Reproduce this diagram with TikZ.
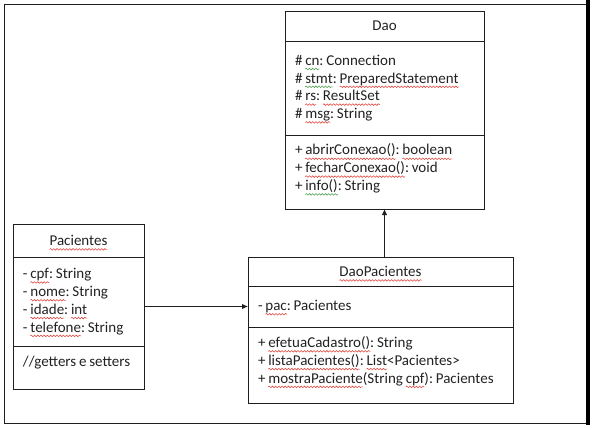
\documentclass[tikz,border=0pt]{standalone}
\usepackage{fontspec}
\setmainfont{Carlito}
\usetikzlibrary{positioning,arrows.meta,decorations.pathmorphing}
\definecolor{umlline}{HTML}{1E1E1E}
\definecolor{umltext}{HTML}{222222}
\definecolor{spellred}{HTML}{E0453E}
\definecolor{spellgreen}{HTML}{4A9E4A}
\newsavebox\wavebox
\newlength\wavelen
% wavy spell-check underline
\newcommand\wavy[2]{\leavevmode\sbox\wavebox{#2}\setlength\wavelen{\wd\wavebox}%
  \rlap{\tikz[overlay,baseline=0pt,x=1pt,y=1pt]\draw[#1,line width=0.55pt,decorate,
    decoration={snake,amplitude=0.8pt,segment length=3.2pt}] (0pt,-3.8pt)--(\wavelen,-3.8pt);}%
  \usebox\wavebox}
\newcommand\rw[1]{\wavy{spellred}{#1}}
\newcommand\gw[1]{\wavy{spellgreen}{#1}}
\tikzset{
  part/.style={draw=umlline, line width=0.9pt, text=umltext, text width=#1, align=left,
               inner xsep=10pt, inner ysep=0pt, outer sep=0pt, anchor=north west,
               font=\fontsize{15}{17.8}\selectfont,
               execute at begin node={\frenchspacing\spaceskip=2.8pt\relax
                 \hyphenpenalty=10000\exhyphenpenalty=10000}},
  head/.style={align=center},
  link/.style={-{Latex[length=6pt,width=5.5pt]}, draw=umlline, line width=0.9pt},
  frame/.style={draw=umlline, line width=0.9pt},
}
\begin{document}
\begin{tikzpicture}[x=1pt, y=-1pt]
  \useasboundingbox (0,0) rectangle (594,429);
  % outer frame
  \draw[frame] (4,4) rectangle (586,423);
  \draw[line width=4pt, draw=black] (588,0) -- (588,425);
  % Dao
  \node[part=179pt, head, minimum height=30pt] (dao1) at (285,11) {Dao};
  \node[part=179pt, minimum height=94pt, below=0pt of dao1.south west, anchor=north west] (dao2)
    {\# \gw{cn}: Connection\\ \# \gw{stmt}: \rw{PreparedStatement}\\ \# \rw{rs}: \rw{ResultSet}\\ \# \rw{msg}: String};
  \node[part=179pt, minimum height=74pt, text depth=45pt, below=0pt of dao2.south west, anchor=north west] (dao3)
    {+ \rw{abrirConexao()}: \rw{boolean}\\ + \rw{fecharConexao()}: void\\ + \gw{info()}: String};
  % Pacientes
  \node[part=111pt, head, minimum height=33pt] (pac1) at (13,224) {\rw{Pacientes}};
  \node[part=111pt, minimum height=89pt, below=0pt of pac1.south west, anchor=north west] (pac2)
    {- \rw{cpf}: String\\ - \rw{nome}: String\\ - \rw{idade}: \rw{int}\\ - \rw{telefone}: String};
  \node[part=111pt, minimum height=43pt, text depth=13pt, below=0pt of pac2.south west, anchor=north west] (pac3)
    {//getters e setters};
  % DaoPacientes
  \node[part=245pt, head, minimum height=29pt] (dp1) at (248,257) {\rw{DaoPacientes}};
  \node[part=245pt, minimum height=41pt, below=0pt of dp1.south west, anchor=north west] (dp2)
    {- \rw{pac}: Pacientes};
  \node[part=245pt, minimum height=76pt, text depth=46pt, below=0pt of dp2.south west, anchor=north west] (dp3)
    {+ \rw{efetuaCadastro()}: String\\ + \rw{listaPacientes()}: \rw{List}<Pacientes>\\ + \rw{mostraPaciente}(String \rw{cpf}): Pacientes};
  % connectors
  \draw[link] (pac2.east |- dp2.west) -- (dp2.west);
  \draw[link] (dp1.north -| dao3.south) -- (dao3.south);
\end{tikzpicture}
\end{document}
